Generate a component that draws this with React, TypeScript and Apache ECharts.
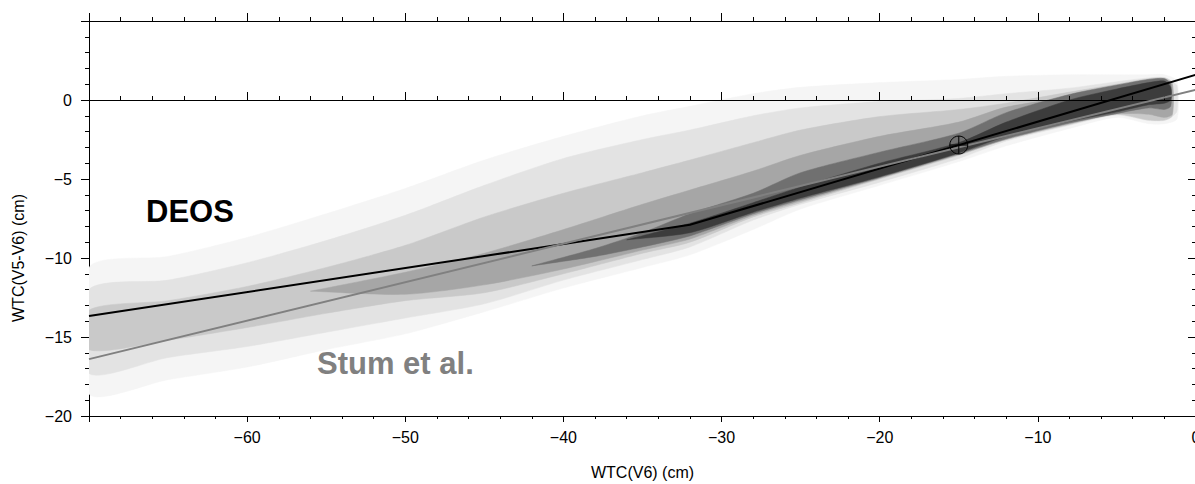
import React, { useEffect, useRef } from "react";
import * as echarts from "echarts";

// ---------- data ----------
const xRange = [-70, 0];
const yRange = [-20, 5];

// DEOS fitted line (black)
const deosLine: [number, number][] = [
  [-70, -13.67],
  [-32, -7.9],
  [0, 1.6],
];
// Stum et al. fitted line (gray)
const stumLine: [number, number][] = [
  [-70, -16.4],
  [0, 0.65],
];
// reference point (circle with cross)
const refPoint: [number, number][] = [[-15, -2.85]];

// density cloud, as nested density bands: [x, upper y, lower y]
const bandFaint: [number, number, number][] = [
  [-70, -10.6, -18.6], [-65, -9.9, -17.7], [-60, -8.7, -16.9], [-55, -7.2, -15.8],
  [-50, -5.6, -14.8], [-45, -3.8, -13.4], [-40, -2.3, -11.9], [-35, -1.0, -10.6],
  [-32, -0.4, -9.8], [-28, 0.4, -8.2], [-25, 0.8, -6.9], [-20, 1.1, -5.4],
  [-15, 1.3, -3.9], [-12, 1.5, -2.9], [-8, 1.6, -1.8], [-5, 1.6, -1.1],
  [-3, 1.6, -1.5], [-2, 1.6, -1.5], [-1.2, 1.2, -1.2],
];
const bandLight: [number, number, number][] = [
  [-70, -12.0, -17.3], [-65, -11.4, -16.3], [-60, -10.3, -15.6], [-55, -8.9, -14.7],
  [-50, -7.3, -13.8], [-45, -5.4, -12.9], [-40, -3.7, -11.4], [-35, -2.5, -10.1],
  [-32, -1.9, -9.3], [-28, -1.0, -7.6], [-25, -0.5, -6.6], [-20, -0.1, -5.2],
  [-15, 0.1, -3.7], [-12, 0.4, -2.6], [-8, 0.75, -1.6], [-5, 1.16, -0.95],
  [-3, 1.4, -1.3], [-2, 1.43, -1.3], [-1.5, 1.16, -1.05], [-1.2, 0.9, -0.7],
];
const bandMedium: [number, number, number][] = [
  [-70, -13.3, -15.8], [-65, -12.7, -15.2], [-60, -11.8, -14.4], [-55, -10.6, -13.5],
  [-50, -9.2, -12.7], [-45, -7.4, -12.2], [-40, -5.9, -11.0], [-35, -4.6, -9.7],
  [-32, -3.8, -9.0], [-28, -2.7, -7.4], [-25, -1.9, -6.5], [-20, -1.05, -5.0],
  [-15, -0.6, -3.5], [-12, -0.2, -2.5], [-8, 0.5, -1.55], [-5, 1.0, -0.9],
  [-3, 1.35, -1.27], [-2, 1.4, -1.27], [-1.5, 1.1, -1.0],
];
const bandDarker: [number, number, number][] = [
  [-56, -12.1, -12.1], [-50, -10.9, -12.3], [-45, -9.7, -11.7], [-40, -8.2, -10.7],
  [-35, -6.6, -9.5], [-32, -5.7, -8.8], [-28, -4.5, -7.3], [-25, -3.5, -6.4],
  [-20, -2.3, -4.95], [-15, -1.4, -3.45], [-12, -0.45, -2.5], [-8, 0.2, -1.5],
  [-5, 0.84, -0.88], [-3, 1.3, -0.9], [-2, 1.35, -1.1], [-1.5, 1.0, -0.9],
];
const bandDark: [number, number, number][] = [
  [-42, -10.5, -10.5], [-38, -9.4, -9.9], [-35, -8.4, -9.3], [-32, -7.2, -8.6],
  [-28, -5.9, -7.2], [-25, -4.6, -6.3], [-20, -3.3, -4.9], [-15, -2.1, -3.4],
  [-12, -0.8, -2.45], [-8, 0.35, -1.45], [-5, 0.95, -0.85], [-3, 1.3, -0.5],
  [-2, 1.35, -0.6], [-1.6, 1.0, -0.4],
];
const bandDarkest: [number, number, number][] = [
  [-36, -8.85, -8.85], [-32, -7.8, -8.4], [-28, -6.5, -7.1], [-25, -5.5, -6.2],
  [-20, -4.0, -4.85], [-15, -2.7, -3.35], [-12, -1.4, -2.3], [-8, 0.0, -1.35],
  [-5, 0.7, -0.75], [-3, 1.1, -0.3], [-2, 1.2, -0.2], [-1.6, 0.8, 0.0],
];

const bands = [bandFaint, bandLight, bandMedium, bandDarker, bandDark, bandDarkest];
const bandColors = ["#f5f5f5", "#e3e3e3", "#c9c9c9", "#a6a6a6", "#707070", "#3c3c3c"];

const xAxisTitle = "WTC(V6) (cm)";
const yAxisTitle = "WTC(V5-V6) (cm)";
const deosLabel = "DEOS";
const stumLabel = "Stum et al.";

// ---------- chart ----------
const FONT = '"Liberation Sans", Arial, Helvetica, sans-serif';
const fmt = (v: number) => (v < 0 ? "\u2212" + Math.abs(v) : String(v));

function bandSeries(band: [number, number, number][], color: string, z: number) {
  return {
    type: "custom",
    coordinateSystem: "cartesian2d",
    xAxisIndex: 0,
    yAxisIndex: 0,
    clip: true,
    silent: true,
    z,
    data: [[band[0][0], band[0][1]]],
    renderItem: (_params: any, api: any) => {
      const up = band.map((p) => api.coord([p[0], p[1]]));
      const lo = band
        .slice()
        .reverse()
        .map((p) => api.coord([p[0], p[2]]));
      return {
        type: "polygon",
        shape: { points: up.concat(lo), smooth: 0.25 },
        style: { fill: color, stroke: color, lineWidth: 0.5 },
      };
    },
  };
}

export default function App() {
  const ref = useRef<HTMLDivElement>(null);
  useEffect(() => {
    if (!ref.current) return;
    const chart = echarts.init(ref.current, undefined, { renderer: "svg" });
    const black = { color: "#000", width: 1 };
    const option: any = {
      animation: false,
      backgroundColor: "#ffffff",
      grid: {
        left: 89,
        top: 21,
        width: 1107,
        height: 395,
        containLabel: false,
        outerBoundsMode: "none",
      },
      xAxis: [
        {
          type: "value",
          min: xRange[0],
          max: xRange[1],
          interval: 10,
          position: "bottom",
          axisLine: { show: true, onZero: false, lineStyle: black },
          axisTick: { show: true, inside: false, length: 6, lineStyle: black },
          minorTick: { show: true, splitNumber: 5, length: 3, lineStyle: black },
          splitLine: { show: false },
          minorSplitLine: { show: false },
          axisLabel: {
            show: true,
            margin: 13,
            fontSize: 16,
            color: "#000",
            fontFamily: FONT,
            formatter: fmt,
            showMinLabel: false,
            showMaxLabel: true,
          },
          name: xAxisTitle,
          nameLocation: "middle",
          nameGap: 48,
          nameTextStyle: { fontSize: 16, color: "#000", fontFamily: FONT },
        },
        {
          type: "value",
          min: xRange[0],
          max: xRange[1],
          interval: 10,
          position: "top",
          axisLine: { show: true, onZero: false, lineStyle: black },
          axisTick: { show: true, inside: false, length: 8, lineStyle: black },
          minorTick: { show: true, splitNumber: 5, length: 4, lineStyle: black },
          splitLine: { show: false },
          axisLabel: { show: false },
        },
        {
          type: "value",
          min: xRange[0],
          max: xRange[1],
          interval: 10,
          position: "bottom",
          z: 3,
          axisLine: { show: true, onZero: true, onZeroAxisIndex: 0, lineStyle: black },
          axisTick: { show: true, inside: true, length: 8, lineStyle: black },
          minorTick: { show: true, splitNumber: 5, length: 4, lineStyle: black },
          splitLine: { show: false },
          axisLabel: { show: false },
        },
        {
          type: "value",
          min: xRange[0],
          max: xRange[1],
          interval: 10,
          position: "top",
          z: 3,
          axisLine: { show: true, onZero: true, onZeroAxisIndex: 0, lineStyle: black },
          axisTick: { show: true, inside: false, length: 8, lineStyle: black },
          minorTick: { show: true, splitNumber: 5, length: 4, lineStyle: black },
          splitLine: { show: false },
          axisLabel: { show: false },
        },
      ],
      yAxis: [
        {
          type: "value",
          min: yRange[0],
          max: yRange[1],
          interval: 5,
          position: "left",
          axisLine: { show: true, onZero: false, lineStyle: black },
          axisTick: { show: true, inside: false, length: 8, lineStyle: black },
          minorTick: { show: true, splitNumber: 5, length: 4, lineStyle: black },
          splitLine: { show: false },
          minorSplitLine: { show: false },
          axisLabel: {
            show: true,
            margin: 17,
            fontSize: 16,
            color: "#000",
            fontFamily: FONT,
            formatter: fmt,
            showMaxLabel: false,
          },
        },
        {
          type: "value",
          min: yRange[0],
          max: yRange[1],
          interval: 5,
          position: "right",
          axisLine: { show: true, onZero: false, lineStyle: black },
          axisTick: { show: true, inside: true, length: 8, lineStyle: black },
          minorTick: { show: true, splitNumber: 5, length: 4, lineStyle: black },
          splitLine: { show: false },
          axisLabel: { show: false },
        },
      ],
      series: [
        ...bands.map((b, i) => bandSeries(b, bandColors[i], 1 + i * 0.01)),
        {
          type: "line",
          xAxisIndex: 0,
          yAxisIndex: 0,
          data: deosLine,
          showSymbol: false,
          symbol: "none",
          silent: true,
          z: 5,
          lineStyle: { color: "#000000", width: 2 },
        },
        {
          type: "line",
          xAxisIndex: 0,
          yAxisIndex: 0,
          data: stumLine,
          showSymbol: false,
          symbol: "none",
          silent: true,
          z: 6,
          lineStyle: { color: "#808080", width: 2 },
        },
        {
          type: "custom",
          coordinateSystem: "cartesian2d",
          xAxisIndex: 0,
          yAxisIndex: 0,
          silent: true,
          z: 7,
          data: refPoint,
          renderItem: (_p: any, api: any) => {
            const [cx, cy] = api.coord([api.value(0), api.value(1)]);
            const r = 9;
            const st = { fill: "none", stroke: "#000", lineWidth: 1 };
            return {
              type: "group",
              children: [
                { type: "circle", shape: { cx, cy, r }, style: st },
                { type: "line", shape: { x1: cx - r, y1: cy, x2: cx + r, y2: cy }, style: st },
                { type: "line", shape: { x1: cx, y1: cy - r, x2: cx, y2: cy + r }, style: st },
              ],
            };
          },
        },
      ],
      graphic: [
        {
          type: "text",
          x: 18,
          y: 258,
          rotation: Math.PI / 2,
          style: {
            text: yAxisTitle,
            fontSize: 16,
            fontFamily: FONT,
            fill: "#000",
            align: "center",
            verticalAlign: "middle",
          },
        },
        {
          type: "text",
          x: 146,
          y: 211.5,
          z: 10,
          style: {
            text: deosLabel,
            fontSize: 31,
            fontWeight: "bold",
            fontFamily: FONT,
            fill: "#000",
            align: "left",
            verticalAlign: "middle",
          },
        },
        {
          type: "text",
          x: 317,
          y: 363,
          z: 10,
          style: {
            text: stumLabel,
            fontSize: 31,
            fontWeight: "bold",
            fontFamily: FONT,
            fill: "#808080",
            align: "left",
            verticalAlign: "middle",
          },
        },
      ],
    };
    chart.setOption(option);
    return () => chart.dispose();
  }, []);
  return (
    <div
      ref={ref}
      style={{ position: "absolute", left: 0, top: 0, width: 1195, height: 484 }}
    />
  );
}
